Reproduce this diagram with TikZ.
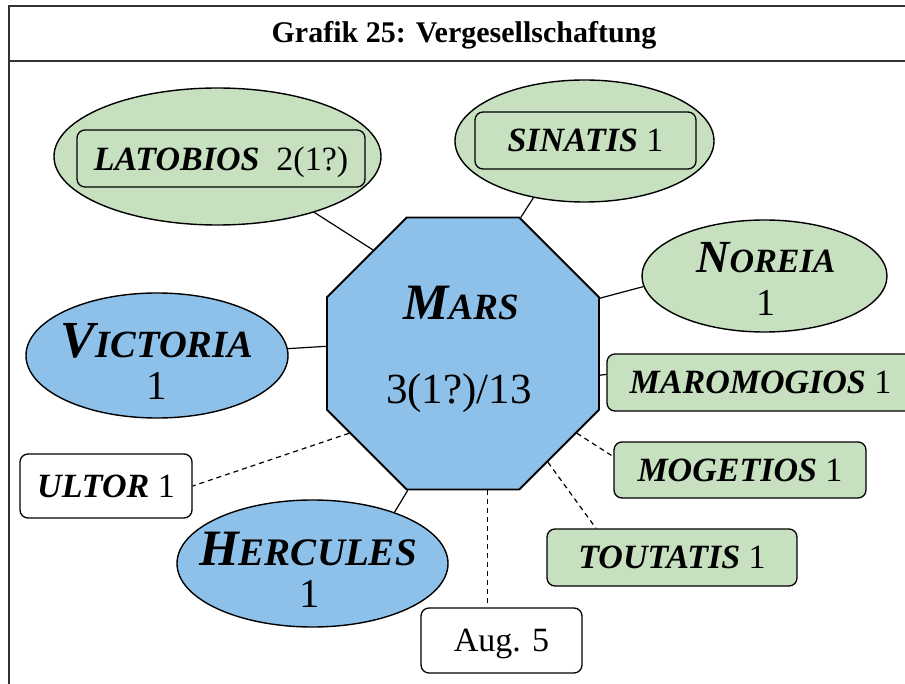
\documentclass[tikz,border=0pt]{standalone}
\usepackage{fontspec}
\setmainfont{Liberation Serif}
\usetikzlibrary{shapes.geometric}
\definecolor{gfill}{RGB}{198,224,192}
\definecolor{bfill}{RGB}{142,193,233}
\definecolor{framec}{RGB}{50,50,50}
\newcommand\fsz[1]{\fontsize{#1}{#1}\selectfont}
\newcommand\bfit{\bfseries\itshape}
\begin{document}
\begin{tikzpicture}[x=1pt,y=-1pt,
  oval/.style={draw, ellipse, line width=1.4pt, inner sep=0pt},
  gbox/.style={draw, rounded corners=8pt, fill=gfill, line width=1.3pt, inner sep=0pt, minimum height=57pt, text depth=0pt, font=\fsz{34}},
  wbox/.style={draw, rounded corners=8pt, fill=white, line width=1.3pt, inner sep=0pt, minimum height=64pt, text depth=0pt, font=\fsz{34}},
  conn/.style={line width=1.2pt},
  dconn/.style={line width=1.2pt, dash pattern=on 5pt off 4pt},
  txt/.style={anchor=base, inner sep=0pt},
]
\useasboundingbox (0,0) rectangle (905,684);
\fill[white] (0,0) rectangle (905,684);
\draw[framec, line width=1.2pt] (9,684) -- (9,6) -- (905,6);
\draw[framec, line width=1.2pt] (9,61) -- (905,61);
\node[txt, font=\fsz{30}\bfseries] (title) at (464,43) {Grafik 25: Vergesellschaftung};

% Mars
\node[draw, regular polygon, regular polygon sides=8, minimum size=294.4pt, inner sep=0pt, fill=bfill, line width=1.9pt] (mars) at (463,353.5) {};
\node[txt] (marsname) at (461,320) {\bfit{\fsz{51}M}{\fsz{37}ARS}};
\node[txt, font=\fsz{43}] (marsnum) at (459,403) {3(1?)/13};

% Latobios
\node[oval, fill=gfill, minimum width=327pt, minimum height=137pt] (lat) at (217.5,156.5) {};
\node[gbox, minimum width=288pt] (latbox) at (221,158.5) {{\bfit LATOBIOS}\hspace{17pt}2(1?)};

% Sinatis
\node[oval, fill=gfill, minimum width=259pt, minimum height=122pt] (sin) at (584.5,141) {};
\node[gbox, minimum width=221pt] (sinbox) at (585.5,140.5) {{\bfit SINATIS} 1};

% Noreia
\node[oval, fill=gfill, minimum width=245pt, minimum height=112pt] (nor) at (764.5,276) {};
\node[txt] (norname) at (766,273) {\bfit{\fsz{46}N}{\fsz{34}OREIA}};
\node[txt, font=\fsz{38}] (nornum) at (766,316) {1};

% Victoria
\node[oval, fill=bfill, minimum width=262pt, minimum height=125pt] (vic) at (157,355.5) {};
\node[txt] (vicname) at (157,358) {\bfit{\fsz{52}V}{\fsz{38.5}ICTORIA}};
\node[txt, font=\fsz{41}] (vicnum) at (157,400) {1};

% Hercules
\node[oval, fill=bfill, minimum width=271pt, minimum height=127pt] (her) at (312.5,563.5) {};
\node[txt] (hername) at (308,565) {\bfit{\fsz{51}H}{\fsz{39}ERCULES}};
\node[txt, font=\fsz{41}] (hernum) at (310,607) {1};

% Boxes
\node[wbox, minimum width=172pt] (ult) at (106,486) {{\bfit ULTOR} 1};
\node[wbox, minimum width=161pt, minimum height=65pt] (aug) at (501.5,640.5) {Aug. 5};
\node[gbox, minimum width=307pt] (mar) at (760.5,382.5) {{\bfit MAROMOGIOS} 1};
\node[gbox, minimum width=252pt, minimum height=56pt] (mog) at (740,470) {{\bfit MOGETIOS} 1};
\node[gbox, minimum width=250pt] (tou) at (672,557.5) {{\bfit TOUTATIS} 1};

% Connectors
\draw[conn] (mars.131) -- (lat.-30.5);
\draw[conn] (mars.67.5) -- (sin.228);
\draw[conn] (mars.22.5) -- (nor.185.6);
\draw[conn] (mars.-9) -- (mar.177.2);
\draw[dconn] (mars.-35.7) -- (mog.174.6);
\draw[dconn] (mars.-52) -- (tou.159.8);
\draw[dconn] (mars.-80.8) -- (mars.-80.8 |- aug.north);
\draw[conn] (mars.-112.5) -- (her.32.3);
\draw[dconn] (mars.-145) -- (ult.east);
\draw[conn] (mars.177) -- (vic.3.7);
\end{tikzpicture}
\end{document}
